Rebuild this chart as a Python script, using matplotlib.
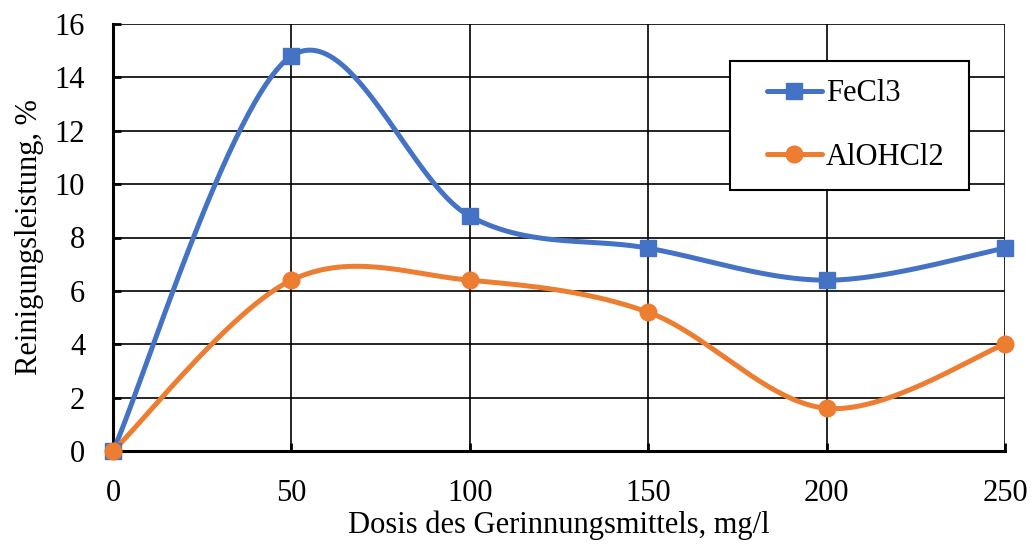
import numpy as np
import matplotlib
matplotlib.use("Agg")
import matplotlib.pyplot as plt
from matplotlib.lines import Line2D
from matplotlib.legend_handler import HandlerLine2D

dose = [0, 50, 100, 150, 200, 250]
fecl3 = [0, 14.8, 8.8, 7.6, 6.4, 7.6]
alohcl2 = [0, 6.4, 6.4, 5.2, 1.6, 4.0]
xticks = [0, 50, 100, 150, 200, 250]
yticks = [0, 2, 4, 6, 8, 10, 12, 14, 16]

def smooth(xs, ys, n=60):
    # Excel-like smoothing: Catmull-Rom Bezier segments
    P = np.column_stack([xs, ys]).astype(float)
    out = []
    m = len(P)
    for i in range(m - 1):
        p0 = P[i - 1] if i > 0 else P[i]
        p1 = P[i]
        p2 = P[i + 1]
        p3 = P[i + 2] if i + 2 < m else P[i + 1]
        c1 = p1 + (p2 - p0) / 6.0
        c2 = p2 - (p3 - p1) / 6.0
        t = np.linspace(0, 1, n)[:, None]
        seg = ((1 - t) ** 3) * p1 + 3 * ((1 - t) ** 2) * t * c1 + 3 * (1 - t) * t ** 2 * c2 + t ** 3 * p2
        out.append(seg if i == 0 else seg[1:])
    s = np.vstack(out)
    return s[:, 0], s[:, 1]

plt.rcParams['font.family'] = ['Liberation Serif', 'DejaVu Serif']

fig = plt.figure(figsize=(10.33, 5.46), dpi=100)
ax = fig.add_axes([113 / 1033, 1 - 451 / 546, (1005 - 113) / 1033, (451 - 24) / 546])

blue = '#4472C4'
orange = '#ED7D31'

ax.set_xlim(0, 250)
ax.set_ylim(0, 16)
ax.set_xticks(xticks)
ax.set_yticks(yticks)
ax.grid(True, color='black', linewidth=1.2)
ax.set_axisbelow(True)

for s in ['top', 'right']:
    ax.spines[s].set_visible(False)
ax.spines['left'].set_linewidth(2.2)
ax.spines['bottom'].set_linewidth(2.2)

sx, sy = smooth(dose, fecl3)
ax.plot(sx, sy, color=blue, lw=3.6, solid_capstyle='round', clip_on=False, zorder=3)
ax.plot(dose, fecl3, ls='none', marker='s', ms=11, color=blue, clip_on=False, zorder=4)
sx, sy = smooth(dose, alohcl2)
ax.plot(sx, sy, color=orange, lw=3.6, solid_capstyle='round', clip_on=False, zorder=3)
ax.plot(dose, alohcl2, ls='none', marker='o', ms=12, color=orange, clip_on=False, zorder=5)

ax.tick_params(axis='both', direction='in', length=6, width=2, labelsize=22, colors='black')
ax.tick_params(axis='y', pad=20)
ax.tick_params(axis='x', pad=20)

ax.set_xlabel('Dosis des Gerinnungsmittels, mg/l', fontsize=22, labelpad=2)
ax.set_ylabel('Reinigungsleistung, %', fontsize=22, labelpad=8)

h1 = Line2D([0], [0], color=blue, lw=3.6, marker='s', ms=11, solid_capstyle='round')
h2 = Line2D([0], [0], color=orange, lw=3.6, marker='o', ms=12, solid_capstyle='round')
W = 892.0
H = 427.0
leg = ax.legend([h1, h2], ['FeCl3', 'AlOHCl2'], loc='upper left',
                bbox_to_anchor=((730 - 113) / W, (451 - 61) / H, (969 - 730) / W, 0),
                mode='expand',
                fontsize=22, frameon=True, fancybox=False, edgecolor='black',
                framealpha=1, handlelength=2.4, handletextpad=0.15,
                labelspacing=1.12, borderpad=0.6, borderaxespad=0,
                handler_map={Line2D: HandlerLine2D(xpad=0.6)})
leg.get_frame().set_linewidth(1.5)

fig.savefig('out.png', dpi=100)
